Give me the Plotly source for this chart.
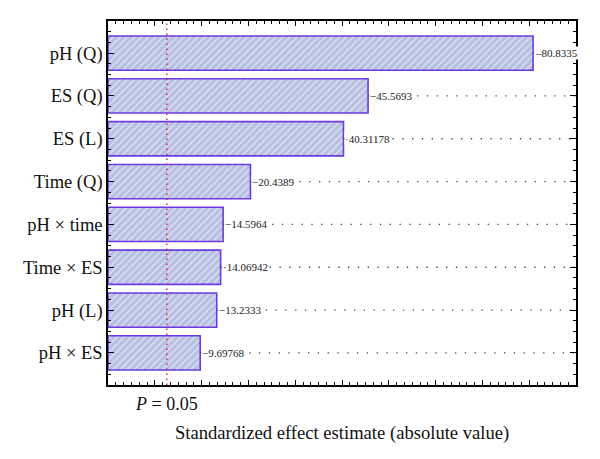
import plotly.graph_objects as go

categories = ["pH (Q)", "ES (Q)", "ES (L)", "Time (Q)", "pH \u00d7 time", "Time \u00d7 ES", "pH (L)", "pH \u00d7 ES"]
effects = [80.8335, 45.5693, 40.31178, 20.4389, 14.5964, 14.06942, 13.2333, 9.69768]
value_labels = ["\u201380.8335", "\u221245.5693", "\u00b740.31178", "\u221220.4389", "\u221214.5964", "\u00b714.06942", "\u221213.2333", "\u22129.69768"]
p_critical = 2.571
x_min, x_max = -10, 90

n = len(categories)
ypos = list(range(n - 1, -1, -1))
serif = "Liberation Serif, Times New Roman, serif"

fig = go.Figure()

# dotted leader lines
for v, y in zip(effects, ypos):
    fig.add_trace(go.Scatter(x=[v, x_max], y=[y, y], mode="lines",
                             line=dict(color="#444", width=1.3, dash="1.3px,8.5px"),
                             hoverinfo="skip", showlegend=False))

fig.add_trace(go.Bar(
    x=[v - x_min for v in effects], base=x_min, y=ypos, orientation="h", width=0.8,
    marker=dict(color="#b6bfe2", line=dict(color="#6a3be0", width=1.6),
                pattern=dict(shape="/", fgcolor="white", size=5, solidity=0.3)),
    showlegend=False, hoverinfo="skip"))

fig.add_trace(go.Scatter(x=[p_critical, p_critical], y=[-0.75, 7.75], mode="lines",
                         line=dict(color="#e0203a", width=1.4, dash="1.5px,3.5px"),
                         hoverinfo="skip", showlegend=False))

for v, y, t in zip(effects, ypos, value_labels):
    fig.add_annotation(x=v, y=y, text=t, showarrow=False, xanchor="left", xshift=1,
                       bgcolor="white", borderpad=0,
                       font=dict(family=serif, size=11, color="#222"))

fig.add_annotation(x=p_critical, xref="x", y=-0.02, yref="paper", yanchor="top",
                   text="<i>P</i> = 0.05", showarrow=False,
                   font=dict(family=serif, size=18, color="#111"))
fig.add_annotation(x=0.5, xref="paper", y=-0.097, yref="paper", yanchor="top",
                   text="Standardized effect estimate (absolute value)", showarrow=False,
                   font=dict(family=serif, size=18.6, color="#111"))

fig.update_xaxes(range=[x_min, x_max], showticklabels=False, showgrid=False, zeroline=False,
                 automargin=False,
                 ticks="inside", tick0=0, dtick=10, ticklen=5, tickcolor="black", tickwidth=1,
                 minor=dict(ticks="inside", dtick=10/6, tick0=0, ticklen=3, tickcolor="black", tickwidth=1),
                 showline=True, linecolor="black", linewidth=1.5, mirror="ticks")
fig.update_yaxes(range=[-0.75, 7.75], tickmode="array", tickvals=ypos, ticktext=categories,
                 showgrid=False, zeroline=False, automargin=False,
                 ticks="inside", ticklen=6, tickcolor="black", tickwidth=1,
                 minor=dict(ticks="inside", dtick=0.25, tick0=0, ticklen=3.5, tickcolor="black", tickwidth=1),
                 showline=True, linecolor="black", linewidth=1.5, mirror="ticks",
                 tickfont=dict(family=serif, size=18.5, color="#111"))

fig.update_layout(width=600, height=459, margin=dict(l=108, r=24, t=21, b=74, autoexpand=False),
                  plot_bgcolor="white", paper_bgcolor="white", bargap=0.2)

fig.write_html("out.html", config={"displayModeBar": False},
               post_script="document.body.style.margin='0';")
